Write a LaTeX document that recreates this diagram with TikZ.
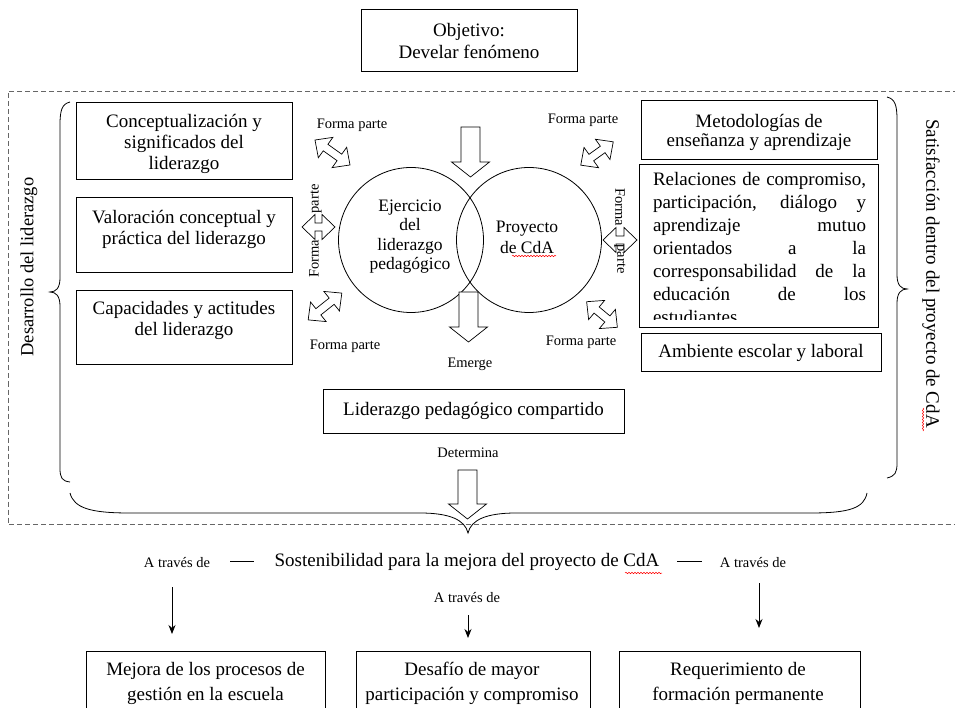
\documentclass[tikz,border=0pt]{standalone}
\usepackage{fontspec}
\setmainfont{Liberation Serif}
\usetikzlibrary{arrows.meta,decorations.pathmorphing}
\begin{document}
\begin{tikzpicture}[x=1pt,y=-1pt,
  frame/.style={draw, line width=0.8pt, inner sep=0pt},
  txt/.style={inner sep=0pt, align=center, font=\fontsize{19}{21}\selectfont},
  ctxt/.style={inner sep=0pt, align=center, font=\fontsize{17.5}{19.5}\selectfont},
  lbl/.style={inner sep=0pt, font=\fontsize{14.5}{16}\selectfont},
  blockline/.style={draw, line width=0.7pt, fill=white, line join=miter},
  thinarrow/.style={-{Stealth[length=9pt,width=7pt]}, line width=0.8pt},
  spell/.style={red, line width=0.5pt, decorate, decoration={snake, amplitude=0.7pt, segment length=3pt}},
  dashframe/.style={draw=black!60, line width=0.8pt, dash pattern=on 5pt off 3pt},
  bracel/.style={line width=0.8pt},
  pics/dblarrow/.style={code={\draw[blockline] (-#1,0) -- (-#1+13,-12.5) -- (-#1+13,-4) -- (#1-13,-4) -- (#1-13,-12.5) -- (#1,0) -- (#1-13,12.5) -- (#1-13,4) -- (-#1+13,4) -- (-#1+13,12.5) -- cycle;}},
  pics/downarrow/.style={code={\draw[blockline] (-9.5,0) -- (9.5,0) -- (9.5,#1-15) -- (19,#1-15) -- (0,#1) -- (-19,#1-15) -- (-9.5,#1-15) -- cycle;}}
]
\useasboundingbox (0,0) rectangle (955,708);
\clip (0,0) rectangle (955,708);

% dashed frame
\draw[dashframe] (958,91.5) -- (8,91.5) -- (8,524) -- (958,524);

% objective
\node[frame, minimum width=216pt, minimum height=62pt] (obj) at (469,40) {};
\node[txt, font=\fontsize{19}{22}\selectfont] (objt) at (469,41) {Objetivo:\\Develar fenómeno};

% left boxes
\node[frame, minimum width=216pt, minimum height=77pt] (l1) at (184,140.5) {};
\node[txt] (l1t) at (184,144) {Conceptualización y\\significados del\\liderazgo};
\node[frame, minimum width=216pt, minimum height=75pt] (l2) at (184,234.5) {};
\node[txt] (l2t) at (184,229) {Valoración conceptual y\\práctica del liderazgo};
\node[frame, minimum width=216pt, minimum height=74pt] (l3) at (184,327) {};
\node[txt] (l3t) at (184,320) {Capacidades y actitudes\\del liderazgo};

% right boxes
\node[frame, minimum width=236pt, minimum height=59pt] (r1) at (759,129.5) {};
\node[txt, font=\fontsize{19}{19}\selectfont] (r1t) at (759,132) {Metodologías de\\enseñanza y aprendizaje};
\node[frame, minimum width=239pt, minimum height=163pt] (r2) at (758.5,245.5) {};
\begin{scope}
\clip (640,165) rectangle (877,319.5);
\node[txt, align=left, anchor=north, font=\fontsize{19}{23}\selectfont] (r2t) at (759.5,172.5)
 {\makebox[213pt][s]{Relaciones de compromiso,}\\
  \makebox[213pt][s]{participación, diálogo y}\\
  \makebox[213pt][s]{aprendizaje mutuo}\\
  \makebox[213pt][s]{orientados a la}\\
  \makebox[213pt][s]{corresponsabilidad de la}\\
  \makebox[213pt][s]{educación de los}\\
  estudiantes};
\end{scope}
\node[frame, minimum width=240pt, minimum height=38pt] (r3) at (761,352) {};
\node[txt] (r3t) at (761,353) {Ambiente escolar y laboral};

% circles
\node[draw, circle, line width=0.8pt, minimum size=145pt, inner sep=0pt] (c1) at (411,240) {};
\node[draw, circle, line width=0.8pt, minimum size=145pt, inner sep=0pt] (c2) at (529,240) {};
\node[ctxt] (c1t) at (410,236.5) {Ejercicio\\del\\liderazgo\\pedagógico};
\node[ctxt, font=\fontsize{17.5}{21}\selectfont] (c2t) at (527,237.5) {Proyecto\\de CdA};

% block arrows
\pic (arTop) at (470.5,127) {downarrow=50};
\pic (arEm) at (468.5,292) {downarrow=50};
\pic (arDet) at (467.5,470) {downarrow=49};
\node[lbl] (em) at (470,364) {Emerge};
\node[lbl] (det) at (468,453) {Determina};

% double arrows
\pic[rotate=-35.5] (dTL) at (332.5,152.5) {dblarrow=21.5};
\pic[rotate=35.7] (dTR) at (597,153.5) {dblarrow=20};
\pic[rotate=38.5] (dBL) at (325,306.5) {dblarrow=21.5};
\pic[rotate=-39.8] (dBR) at (602,314.5) {dblarrow=20};
\pic (dML) at (318.5,227) {dblarrow=16.5};
\pic (dMR) at (620,240) {dblarrow=17};

\node[lbl] (fTL) at (352,125) {Forma parte};
\node[lbl] (fTR) at (583,120) {Forma parte};
\node[lbl] (fBL) at (345,346) {Forma parte};
\node[lbl] (fBR) at (581,342) {Forma parte};
\node[lbl, rotate=90] (fML1) at (316,199) {parte};
\node[lbl, rotate=90] (fML2) at (314,259) {Forma};
\node[lbl, rotate=-90] (fMR1) at (620,207) {Forma};
\node[lbl, rotate=-90] (fMR2) at (620,259) {parte};

% central result
\node[frame, minimum width=301pt, minimum height=44pt] (lpc) at (473.5,411) {};
\node[txt] (lpct) at (473.5,410.5) {Liderazgo pedagógico compartido};

% braces
\draw[bracel] (70,102) .. controls (62,104) and (60,110) .. (60,125) -- (60,278)
  .. controls (60,288) and (56,292) .. (50,292) .. controls (56,292) and (60,296) .. (60,306)
  -- (60,468) .. controls (60,478) and (62,481) .. (70,482);
\draw[bracel] (887,97) .. controls (895,99) and (897,105) .. (897,120) -- (897,275)
  .. controls (897,285) and (901,289) .. (907,289) .. controls (901,289) and (897,293) .. (897,303)
  -- (897,463) .. controls (897,473) and (895,476) .. (887,478);
\draw[bracel] (70,493) .. controls (74,508) and (90,513) .. (130,513) -- (420,513)
  .. controls (450,513) and (465,520) .. (468,533) .. controls (471,520) and (486,513) .. (516,513)
  -- (810,513) .. controls (850,513) and (864,508) .. (867,493);

% side labels
\node[txt, rotate=90, font=\fontsize{18.5}{20}\selectfont] (dev) at (29,267) {Desarrollo del liderazgo};
\node[txt, rotate=-90] (sat) at (931,273.5) {Satisfacción dentro del proyecto de CdA};

% bottom section
\node[lbl] (atl) at (177,563) {A través de};
\node[txt] (sost) at (467,562) {Sostenibilidad para la mejora del proyecto de CdA};
\node[lbl] (atr) at (753,563) {A través de};
\node[lbl] (atm) at (467,598) {A través de};
\coordinate (d1a) at (230,561); \coordinate (d1b) at (254,561);
\coordinate (d2a) at (677,561); \coordinate (d2b) at (702,561);
\draw[line width=0.8pt] (d1a) -- (d1b);
\draw[line width=0.8pt] (d2a) -- (d2b);
\coordinate (aL1) at (172,587); \coordinate (aL2) at (172,634);
\coordinate (aM1) at (468,615); \coordinate (aM2) at (468,638);
\coordinate (aR1) at (759,583); \coordinate (aR2) at (759,628);
\draw[thinarrow] (aL1) -- (aL2);
\draw[thinarrow] (aM1) -- (aM2);
\draw[thinarrow] (aR1) -- (aR2);

\node[frame, minimum width=239pt, minimum height=80pt] (bx1) at (205.5,691) {};
\node[txt, font=\fontsize{19}{25}\selectfont] (bx1t) at (205.5,683) {Mejora de los procesos de\\gestión en la escuela};
\node[frame, minimum width=234pt, minimum height=80pt] (bx2) at (473,691) {};
\node[txt, font=\fontsize{19}{25}\selectfont] (bx2t) at (472,683) {Desafío de mayor\\participación y compromiso};
\node[frame, minimum width=241pt, minimum height=80pt] (bx3) at (739.5,691) {};
\node[txt, font=\fontsize{19}{25}\selectfont] (bx3t) at (738,683) {Requerimiento de\\formación permanente};

% spell-check marks
\coordinate (s1a) at (512,256); \coordinate (s1b) at (556,256);
\coordinate (s2a) at (625,573); \coordinate (s2b) at (662,573);
\coordinate (s3a) at (923,408); \coordinate (s3b) at (923,431);
\draw[spell] (s1a) -- (s1b);
\draw[spell] (s2a) -- (s2b);
\draw[spell] (s3a) -- (s3b);
\end{tikzpicture}
\end{document}
